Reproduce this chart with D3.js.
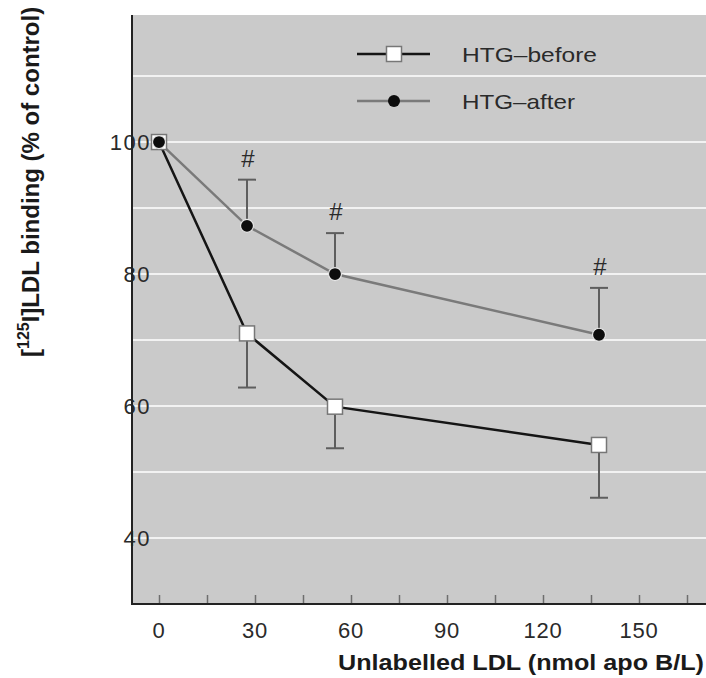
<!DOCTYPE html>
<html>
<head>
<meta charset="utf-8">
<script src="https://cdn.jsdelivr.net/npm/d3@7"></script>
<style>
  html, body { margin: 0; padding: 0; background: #fff; }
  svg { display: block; font-family: "Liberation Sans", Arial, sans-serif; }
</style>
</head>
<body>
<svg id="chart" width="706" height="678"></svg>
<script>
// Unlabelled LDL concentrations (nmol apo B/L)
const concentrations = [0, 27.5, 55, 137.5];

// [125I]LDL binding, % of control, with SE
const beforeValues = [100, 71.0, 59.9, 54.1];
const beforeErrors = [0, 8.2, 6.3, 8.0];
const afterValues  = [100, 87.3, 80.0, 70.8];
const afterErrors  = [0, 7.0, 6.2, 7.1];
// points marked as significantly different
const afterMarked  = [false, true, true, true];

const xTicks = [0, 15, 30, 45, 60, 75, 90, 105, 120, 135, 150, 165];
const xTickLabels = [0, 30, 60, 90, 120, 150];
const yTickLabels = [40, 60, 80, 100];
const yGridValues = [40, 50, 60, 70, 80, 90, 100, 110];

const seriesNames = ["HTG\u2013before", "HTG\u2013after"];

const svg = d3.select("#chart");

const plot = { left: 132, top: 15, right: 706, bottom: 604 };

const x = d3.scaleLinear().domain([0, 150]).range([159, 639]);
const y = d3.scaleLinear().domain([30, 119.25]).range([plot.bottom, plot.top]);

// panel background
svg.append("rect")
  .attr("x", plot.left).attr("y", plot.top)
  .attr("width", plot.right - plot.left)
  .attr("height", plot.bottom - plot.top)
  .attr("fill", "#cacaca");

// white horizontal gridlines
svg.append("g").selectAll("line")
  .data(yGridValues)
  .join("line")
  .attr("x1", plot.left).attr("x2", plot.right)
  .attr("y1", d => y(d)).attr("y2", d => y(d))
  .attr("stroke", "#f2f2f2")
  .attr("stroke-width", 2);

// x axis: ticks point up into the panel
const xAxis = d3.axisBottom(x)
  .tickValues(xTicks)
  .tickSize(-9)
  .tickFormat("");
const gx = svg.append("g")
  .attr("transform", `translate(0,${plot.bottom})`)
  .call(xAxis);
gx.select(".domain").remove();
gx.selectAll(".tick line").attr("stroke", "#6e6e6e").attr("stroke-width", 1.5);

svg.append("g").selectAll("text")
  .data(xTickLabels)
  .join("text")
  .attr("x", d => x(d))
  .attr("y", 638)
  .attr("text-anchor", "middle")
  .attr("font-size", 22)
  .attr("letter-spacing", 0.8)
  .attr("fill", "#2a2a2a")
  .text(d => d);

// y axis labels
const yAxis = d3.axisLeft(y).tickValues(yTickLabels).tickSize(0).tickPadding(0);
const gy = svg.append("g")
  .attr("transform", `translate(151,0)`)
  .call(yAxis);
gy.select(".domain").remove();
gy.selectAll(".tick text")
  .attr("font-size", 22)
  .attr("font-family", "Liberation Sans, Arial, sans-serif")
  .attr("fill", "#2a2a2a")
  .attr("letter-spacing", 1.5);

// axis lines
svg.append("line")
  .attr("x1", plot.left).attr("x2", plot.left)
  .attr("y1", plot.top).attr("y2", plot.bottom + 1)
  .attr("stroke", "#222").attr("stroke-width", 2);
svg.append("line")
  .attr("x1", plot.left).attr("x2", plot.right)
  .attr("y1", plot.bottom).attr("y2", plot.bottom)
  .attr("stroke", "#222").attr("stroke-width", 2);

// axis titles
svg.append("text")
  .attr("x", 704).attr("y", 670)
  .attr("text-anchor", "end")
  .attr("font-size", 22)
  .attr("font-weight", "bold")
  .attr("fill", "#1a1a1a")
  .attr("textLength", 366)
  .attr("lengthAdjust", "spacingAndGlyphs")
  .text("Unlabelled LDL (nmol apo B/L)");

const yTitle = svg.append("text")
  .attr("transform", "translate(39,357) rotate(-90)")
  .attr("font-size", 24)
  .attr("font-weight", "bold")
  .attr("fill", "#1a1a1a");
yTitle.append("tspan").text("[");
yTitle.append("tspan").attr("font-size", 16).attr("dy", -10).text("125");
yTitle.append("tspan").attr("dy", 10).text("I]LDL binding (% of control)");

const beforeData = concentrations.map((c, i) => ({ x: c, v: beforeValues[i], e: beforeErrors[i] }));
const afterData = concentrations.map((c, i) => ({ x: c, v: afterValues[i], e: afterErrors[i], m: afterMarked[i] }));

const line = d3.line().x(d => x(d.x)).y(d => y(d.v));

// error bars: before hangs downward, after rises upward
const capHalf = 9;
function errorBars(data, dir) {
  const g = svg.append("g").attr("stroke", "#5e5e5e").attr("stroke-width", 2);
  data.filter(d => d.e > 0).forEach(d => {
    const end = y(d.v + dir * d.e);
    g.append("line")
      .attr("x1", x(d.x)).attr("x2", x(d.x))
      .attr("y1", y(d.v)).attr("y2", end);
    g.append("line")
      .attr("x1", x(d.x) - capHalf).attr("x2", x(d.x) + capHalf)
      .attr("y1", end).attr("y2", end);
  });
}
errorBars(beforeData, -1);
errorBars(afterData, 1);

// significance marks above the after error bars
svg.append("g").selectAll("text")
  .data(afterData.filter(d => d.m))
  .join("text")
  .attr("x", d => x(d.x) + 1)
  .attr("y", d => y(d.v + d.e) - 13)
  .attr("text-anchor", "middle")
  .attr("font-size", 24)
  .attr("fill", "#2a2a2a")
  .text("#");

// series lines
svg.append("path")
  .datum(afterData)
  .attr("d", line)
  .attr("fill", "none")
  .attr("stroke", "#7a7a7a")
  .attr("stroke-width", 2.5);
svg.append("path")
  .datum(beforeData)
  .attr("d", line)
  .attr("fill", "none")
  .attr("stroke", "#151515")
  .attr("stroke-width", 2.5);

// markers
const sq = 15;
svg.append("g").selectAll("rect")
  .data(beforeData)
  .join("rect")
  .attr("x", d => x(d.x) - sq / 2)
  .attr("y", d => y(d.v) - sq / 2)
  .attr("width", sq).attr("height", sq)
  .attr("fill", "#fff")
  .attr("stroke", "#777")
  .attr("stroke-width", 1.5);

svg.append("g").selectAll("circle")
  .data(afterData)
  .join("circle")
  .attr("cx", d => x(d.x))
  .attr("cy", d => y(d.v))
  .attr("r", 6.5)
  .attr("fill", "#0d0d0d")
  .attr("stroke", "#e6e6e6")
  .attr("stroke-width", 1.2);

// legend
const legend = [
  { name: seriesNames[0], y: 54, stroke: "#151515", marker: "square", len: 135 },
  { name: seriesNames[1], y: 101, stroke: "#7a7a7a", marker: "circle", len: 113 }
];
const lg = svg.append("g");
legend.forEach(item => {
  lg.append("line")
    .attr("x1", 357).attr("x2", 430)
    .attr("y1", item.y).attr("y2", item.y)
    .attr("stroke", item.stroke).attr("stroke-width", 2.5);
  if (item.marker === "square") {
    lg.append("rect")
      .attr("x", 394 - sq / 2).attr("y", item.y - sq / 2)
      .attr("width", sq).attr("height", sq)
      .attr("fill", "#fff").attr("stroke", "#777").attr("stroke-width", 1.5);
  } else {
    lg.append("circle")
      .attr("cx", 394).attr("cy", item.y).attr("r", 6)
      .attr("fill", "#0d0d0d");
  }
  lg.append("text")
    .attr("x", 462).attr("y", item.y + 8)
    .attr("font-size", 21)
    .attr("fill", "#2a2a2a")
    .attr("textLength", item.len)
    .attr("lengthAdjust", "spacingAndGlyphs")
    .text(item.name);
});
</script>
</body>
</html>
